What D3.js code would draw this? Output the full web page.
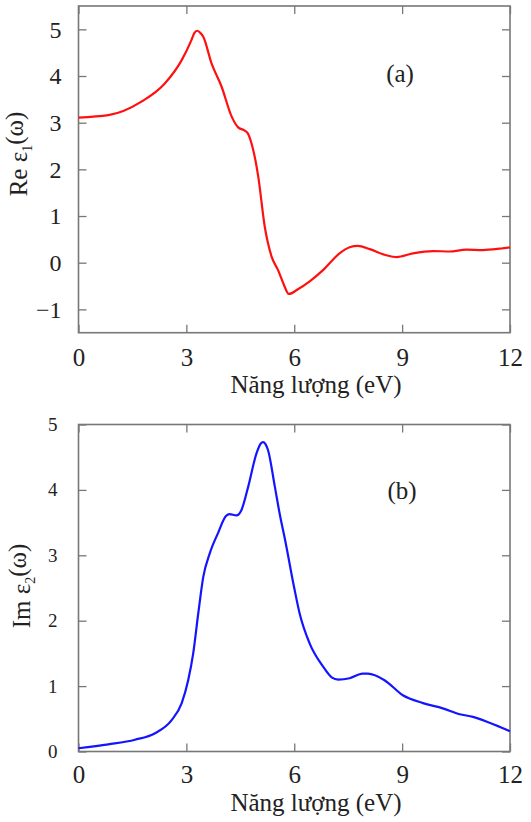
<!DOCTYPE html>
<html><head><meta charset="utf-8">
<script src="https://cdn.jsdelivr.net/npm/d3@7"></script>
<style>
html,body{margin:0;padding:0;background:#fff;}
text{font-family:"Liberation Serif","Times New Roman",serif;fill:#222;}
</style></head>
<body><svg id="c" width="531" height="822"></svg>
<script>
// ---- data ----
const energyA = [0, 0.83, 1.75, 2.4, 2.87, 3.14, 3.22, 3.3, 3.38, 3.47, 3.7, 3.98, 4.26, 4.44, 4.6, 4.7, 4.81, 5.0, 5.18, 5.37, 5.55, 5.7, 5.85, 6.1, 6.43, 6.8, 7.26, 7.54, 7.77, 8.1, 8.56, 8.85, 9.3, 9.86, 10.32, 10.78, 11.24, 11.71, 12];
const reEps1  = [3.11, 3.16, 3.45, 3.84, 4.34, 4.77, 4.92, 4.97, 4.93, 4.84, 4.27, 3.77, 3.13, 2.9, 2.84, 2.78, 2.56, 1.84, 0.77, 0.13, -0.16, -0.45, -0.67, -0.57, -0.4, -0.16, 0.2, 0.33, 0.36, 0.29, 0.16, 0.12, 0.2, 0.25, 0.24, 0.28, 0.27, 0.3, 0.33];

const energyB = [0, 0.83, 1.57, 2.13, 2.59, 2.87, 3.05, 3.19, 3.33, 3.47, 3.65, 3.88, 4.1, 4.2, 4.39, 4.53, 4.72, 4.95, 5.07, 5.13, 5.2, 5.27, 5.46, 5.6, 5.74, 6.0, 6.15, 6.43, 6.8, 7.05, 7.22, 7.54, 7.9, 8.05, 8.51, 9.02, 9.58, 10.13, 10.6, 10.97, 11.43, 12];
const imEps2  = [0.05, 0.11, 0.18, 0.28, 0.48, 0.74, 1.09, 1.5, 2.11, 2.67, 3.03, 3.34, 3.6, 3.63, 3.61, 3.69, 4.05, 4.56, 4.71, 4.73, 4.7, 4.61, 4.05, 3.62, 3.25, 2.5, 2.11, 1.65, 1.3, 1.13, 1.1, 1.12, 1.19, 1.19, 1.09, 0.86, 0.74, 0.66, 0.57, 0.53, 0.44, 0.31];

const xTicks = [0, 3, 6, 9, 12];
const yTicksA = [-1, 0, 1, 2, 3, 4, 5];
const yTicksB = [0, 1, 2, 3, 4, 5];
const xTitle = "Năng lượng (eV)";

const svg = d3.select("#c");
const L = 78.5, R = 510;

function panel(o) {
  const x = d3.scaleLinear().domain([0, 12]).range([L, R]);
  const y = d3.scaleLinear().domain(o.ydom).range([o.bottom, o.top]);
  const g = svg.append("g");
  const frameColor = "#777";

  const styleAxis = (sel, fs) => {
    sel.attr("font-family", null);
    sel.select(".domain").remove();
    sel.selectAll(".tick line").attr("stroke", frameColor).attr("stroke-width", 1.3);
    sel.selectAll(".tick text").attr("font-size", fs).attr("fill", "#222");
  };

  g.append("g").attr("transform", `translate(0,${o.bottom})`)
    .call(d3.axisBottom(x).tickValues(xTicks).tickSizeInner(-8).tickSizeOuter(0).tickPadding(o.xpad).tickFormat(d3.format("d")))
    .call(s => styleAxis(s, o.xfs));
  g.append("g").attr("transform", `translate(0,${o.top})`)
    .call(d3.axisTop(x).tickValues(xTicks).tickSizeInner(-8).tickSizeOuter(0).tickFormat(""))
    .call(s => styleAxis(s, o.xfs));
  g.append("g").attr("transform", `translate(${L},0)`)
    .call(d3.axisLeft(y).tickValues(o.yticks).tickSizeInner(-8).tickSizeOuter(0).tickPadding(o.ypad)
      .tickFormat(d => d < 0 ? "\u2212" + Math.abs(d) : d))
    .call(s => styleAxis(s, o.yfs));
  g.append("g").attr("transform", `translate(${R},0)`)
    .call(d3.axisRight(y).tickValues(o.yticks).tickSizeInner(-8).tickSizeOuter(0).tickFormat(""))
    .call(s => styleAxis(s, o.yfs));

  g.append("rect").attr("x", L).attr("y", o.top).attr("width", R - L).attr("height", o.bottom - o.top)
    .attr("fill", "none").attr("stroke", frameColor).attr("stroke-width", 1.6);

  const line = d3.line().x((d, i) => x(o.xs[i])).y(d => y(d)).curve(d3.curveMonotoneX);
  g.append("path").datum(o.ys).attr("d", line).attr("fill", "none")
    .attr("stroke", o.color).attr("stroke-width", 2.2).attr("stroke-linejoin", "round");

  g.append("text").attr("x", o.lx).attr("y", o.ly).attr("text-anchor", "middle")
    .attr("dominant-baseline", "central").attr("font-size", 25).text(o.label);

  g.append("text").attr("x", 316).attr("y", o.xtY).attr("text-anchor", "middle")
    .attr("font-size", 25).text(xTitle);

  const yt = g.append("text").attr("transform", `translate(${o.ytX},${o.ytY}) rotate(-90)`)
    .attr("text-anchor", "middle").attr("font-size", 25);
  yt.append("tspan").text(o.ytPre);
  yt.append("tspan").attr("font-size", 14).attr("dy", "0.35em").text(o.ytSub);
  yt.append("tspan").attr("dy", "-0.35em").text("(\u03c9)");
}

panel({ydom: [-1.5, 5.5], top: 6, bottom: 332.7, yticks: yTicksA, xs: energyA, ys: reEps1,
  color: "#ff1010", label: "(a)", lx: 400, ly: 73, xtY: 393, ytX: 27, ytY: 154,
  ytPre: "Re \u03b5", ytSub: "1", xfs: 25, yfs: 24, xpad: 16, ypad: 17});
panel({ydom: [0, 5], top: 424.5, bottom: 751.5, yticks: yTicksB, xs: energyB, ys: imEps2,
  color: "#1414ff", label: "(b)", lx: 402, ly: 490, xtY: 811, ytX: 30, ytY: 586,
  ytPre: "Im \u03b5", ytSub: "2", xfs: 25, yfs: 19, xpad: 14, ypad: 21});
</script></body></html>
